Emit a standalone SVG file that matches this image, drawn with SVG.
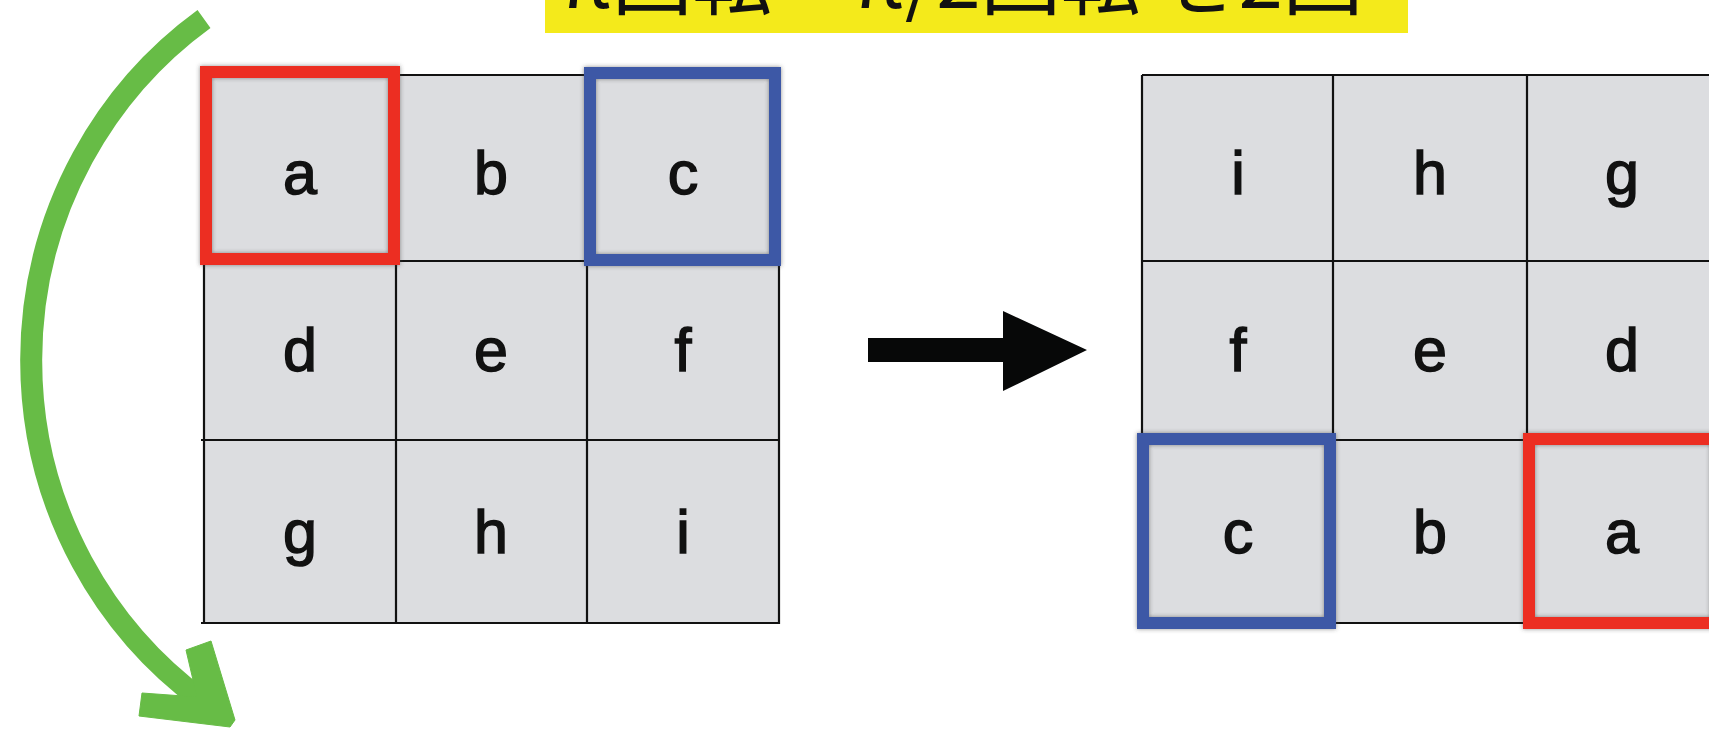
<svg xmlns="http://www.w3.org/2000/svg" width="1709" height="729" viewBox="0 0 1709 729">
<style>
.cell{fill:#dcdde0;}
.gl{stroke:#111;stroke-width:2.2;fill:none;}
.lbl{font-family:"Liberation Sans",Arial,sans-serif;font-size:61px;fill:#111;stroke:#111;stroke-width:1.5;text-anchor:middle;}
.red{fill:none;stroke:#ec2e24;stroke-width:12;}
.blue{fill:none;stroke:#3e58a6;stroke-width:12;}
.title{font-family:"Noto Sans CJK JP","Liberation Sans",sans-serif;font-size:80px;fill:#111;}
</style>
<defs>
<filter id="sh" x="-10%" y="-10%" width="120%" height="120%">
<feDropShadow dx="0" dy="0" stdDeviation="2" flood-color="#444" flood-opacity="0.6"/>
</filter>
</defs>
<rect width="1709" height="729" fill="#fff"/>
<g id="title">
<rect x="545" y="-10" width="863" height="43" fill="#f4ea1b"/>
<text class="title" x="560" y="8">π回転 = π/2回転 を2回</text>
</g>
<g id="grid-left">
<rect class="cell" x="204" y="75" width="575" height="548"/>
<path class="gl" d="M204 75H779V623H201M204 75V623M396 75V623M587 75V623M204 261H779M201 440H779"/>
<g id="L-a"><text class="lbl" x="300" y="194">a</text></g>
<g id="L-b"><text class="lbl" x="491" y="194">b</text></g>
<g id="L-c"><text class="lbl" x="683" y="194">c</text></g>
<g id="L-d"><text class="lbl" x="300" y="371">d</text></g>
<g id="L-e"><text class="lbl" x="491" y="371">e</text></g>
<g id="L-f"><text class="lbl" x="683" y="371">f</text></g>
<g id="L-g"><text class="lbl" x="300" y="553">g</text></g>
<g id="L-h"><text class="lbl" x="491" y="553">h</text></g>
<g id="L-i"><text class="lbl" x="683" y="553">i</text></g>
<g id="L-hl-a"><rect class="red" filter="url(#sh)" x="206" y="72" width="188" height="187"/></g>
<g id="L-hl-c"><rect class="blue" filter="url(#sh)" x="590" y="73" width="185" height="187"/></g>
</g>
<g id="grid-right">
<rect class="cell" x="1142" y="75" width="580" height="548"/>
<path class="gl" d="M1142 75H1722M1142 623H1722M1142 75V623M1333 75V623M1527 75V623M1142 261H1722M1142 440H1722"/>
<g id="R-i"><text class="lbl" x="1238" y="194">i</text></g>
<g id="R-h"><text class="lbl" x="1430" y="194">h</text></g>
<g id="R-g"><text class="lbl" x="1622" y="194">g</text></g>
<g id="R-f"><text class="lbl" x="1238" y="371">f</text></g>
<g id="R-e"><text class="lbl" x="1430" y="371">e</text></g>
<g id="R-d"><text class="lbl" x="1622" y="371">d</text></g>
<g id="R-c"><text class="lbl" x="1238" y="553">c</text></g>
<g id="R-b"><text class="lbl" x="1430" y="553">b</text></g>
<g id="R-a"><text class="lbl" x="1622" y="553">a</text></g>
<g id="R-hl-c"><rect class="blue" filter="url(#sh)" x="1143" y="439" width="187" height="184"/></g>
<g id="R-hl-a"><rect class="red" filter="url(#sh)" x="1529" y="439" width="187" height="184"/></g>
</g>
<g id="connectors">
<polygon points="868,338 1003,338 1003,311 1087,350 1003,391 1003,362 868,362" fill="#070808"/>
<path d="M204 19A414 420 0 0 0 203 701" fill="none" stroke="#67bc46" stroke-width="22"/>
<polygon points="186,650 211,641 235,720 230,727 139,716 142,693 197,697" fill="#67bc46" stroke="#67bc46" stroke-width="1" stroke-linejoin="round"/>
</g>
</svg>
